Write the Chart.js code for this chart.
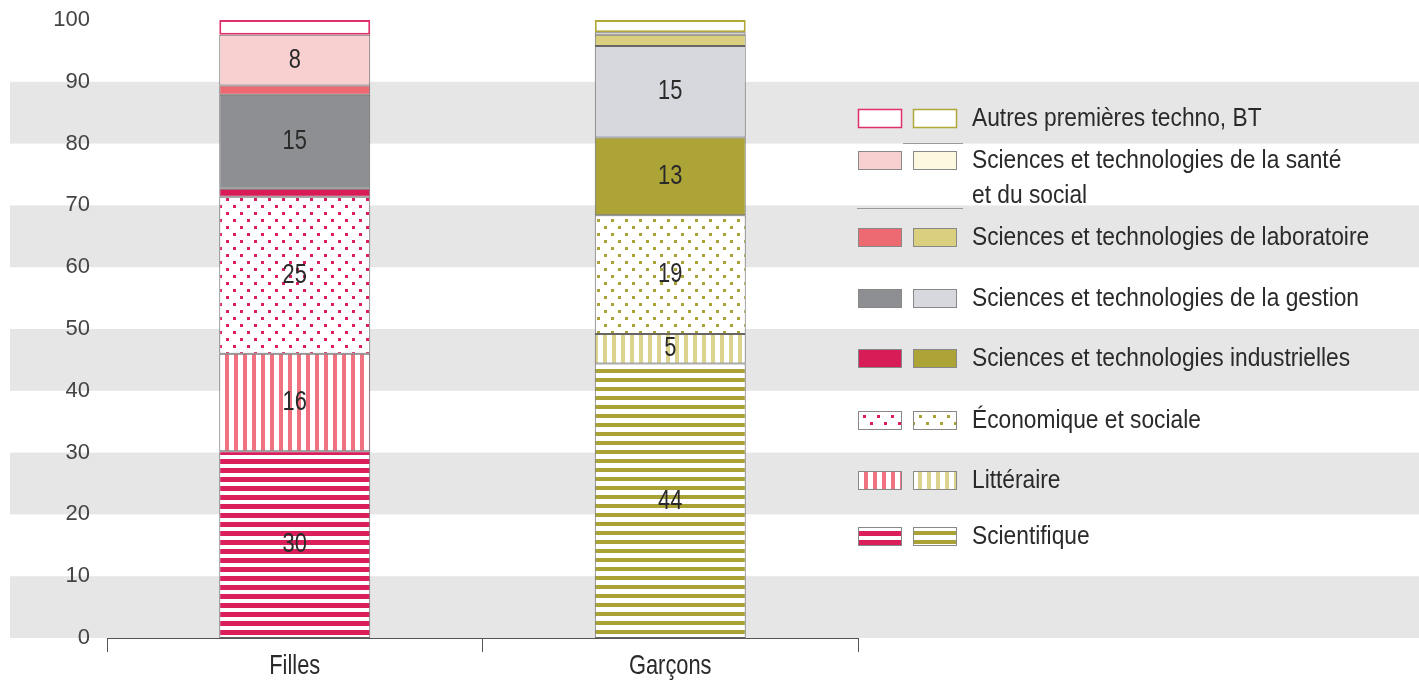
<!DOCTYPE html>
<html lang="fr">
<head>
<meta charset="utf-8">
<script src="https://cdn.jsdelivr.net/npm/chart.js@4.4.1/dist/chart.umd.min.js"></script>
<style>
  html, body { margin: 0; padding: 0; background: #fff; }
  #wrap { width: 1419px; height: 682px; }
</style>
</head>
<body>
<div id="wrap"><canvas id="chart-canvas" width="1419" height="682"></canvas></div>
<script>
// Données (en %), Filles / Garçons
const categories = ['Filles', 'Garçons'];
const scientifique = [30.2, 44.4];
const litteraire = [15.8, 4.8];
const economique = [25.4, 19.2];
const industrielles = [1.3, 12.6];
const gestion = [15.2, 14.8];
const laboratoire = [1.5, 1.8];
const santeSocial = [8.2, 0.4];
const autres = [2.4, 2.0];
const yTicks = [0, 10, 20, 30, 40, 50, 60, 70, 80, 90, 100];

// Libellés de la légende (ordre des séries, du bas vers le haut)
const seriesNames = [
    ['Scientifique'],
    ['Littéraire'],
    ['Économique et sociale'],
    ['Sciences et technologies industrielles'],
    ['Sciences et technologies de la gestion'],
    ['Sciences et technologies de laboratoire'],
    ['Sciences et technologies de la santé', 'et du social'],
    ['Autres premières techno, BT']
];
const seriesValues = [scientifique, litteraire, economique, industrielles, gestion, laboratoire, santeSocial, autres];

const canvas = document.getElementById('chart-canvas');
const ctx = canvas.getContext('2d');
const FONT = "'Liberation Sans', Arial, sans-serif";

// Motifs (rayures, points)
const tile = (w, h, draw) => {
    const c = document.createElement('canvas');
    c.width = w;
    c.height = h;
    const g = c.getContext('2d');
    g.fillStyle = '#fff';
    g.fillRect(0, 0, w, h);
    draw(g);
    return ctx.createPattern(c, 'repeat');
};
const hStripes = (color, t) => tile(9, 9, g => { g.fillStyle = color; g.fillRect(0, 0, 9, t); });
const vStripes = (color, t) => tile(9, 9, g => { g.fillStyle = color; g.fillRect(0, 0, t, 9); });
const dots = (color, s) => tile(14, 14, g => {
    g.fillStyle = color;
    g.fillRect(2, 2, s, s);
    g.fillRect(9, 9, s, s);
});

const fills = [
    [hStripes('#db1f5b', 5), hStripes('#aba235', 4)],
    [vStripes('#f0717f', 4), vStripes('#dcd38c', 4)],
    [dots('#db1f5b', 3), dots('#aba235', 3)],
    ['#d81c57', '#aca437'],
    ['#8e8f93', '#d6d8dd'],
    ['#ee6a72', '#d9cf7e'],
    ['#f8d0d0', '#fcf9e0'],
    ['#ffffff', '#ffffff']
];
const borders = seriesValues.map((_, i) => i === 7 ? ['#e0306a', '#b0a838'] : ['#666', '#666']);

// Texte condensé (mise à l'échelle horizontale)
const condensedText = (c, text, x, y, size, sx, align) => {
    c.save();
    c.font = `${size}px ${FONT}`;
    c.fillStyle = '#2a2a2a';
    c.textBaseline = 'middle';
    c.textAlign = align;
    c.translate(x, y);
    c.scale(sx, 1);
    c.fillText(text, 0, 0);
    c.restore();
};

// Bandes grises de fond
const bandsPlugin = {
    id: 'bands',
    beforeDraw(chart) {
        const { ctx: c, scales: { y } } = chart;
        c.save();
        c.fillStyle = '#e6e6e6';
        for (let v = 0; v < 100; v += 20) {
            const top = y.getPixelForValue(v + 10);
            const bottom = y.getPixelForValue(v);
            c.fillRect(10, top, chart.width - 10, bottom - top);
        }
        c.restore();
    }
};

// Valeurs dans les barres + libellés de l'axe x
const labelsPlugin = {
    id: 'valueLabels',
    afterDatasetsDraw(chart) {
        const c = chart.ctx;
        chart.data.datasets.forEach((ds, i) => {
            chart.getDatasetMeta(i).data.forEach((el, j) => {
                const v = ds.data[j];
                if (v < 4.5) return;
                condensedText(c, String(Math.round(v)), el.x, (el.y + el.base) / 2, 28, 0.78, 'center');
            });
        });
        const x = chart.scales.x;
        categories.forEach((cat, i) => {
            condensedText(c, cat, x.getPixelForTick(i), 666, 28, 0.78, 'center');
        });
    }
};

// Légende à deux pastilles
const legendPlugin = {
    id: 'doubleLegend',
    afterDraw(chart) {
        const c = chart.ctx;
        const rowsY = [536, 480, 420, 358, 298, 237, 160, 118];
        c.save();
        c.strokeStyle = '#9a9a9a';
        c.lineWidth = 1;
        c.beginPath();
        c.moveTo(903, 143.5); c.lineTo(963, 143.5);
        c.moveTo(857, 208.5); c.lineTo(963, 208.5);
        c.stroke();
        c.restore();
        seriesNames.forEach((lines, i) => {
            const cy = rowsY[i];
            [858, 913].forEach((sx, k) => {
                c.save();
                c.fillStyle = fills[i][k];
                c.fillRect(sx, cy - 9, 44, 19);
                c.strokeStyle = i === 7 ? borders[i][k] : '#888';
                c.lineWidth = i === 7 ? 1.5 : 1;
                c.strokeRect(sx + 0.5, cy - 8.5, 43, 18);
                c.restore();
            });
            lines.forEach((txt, l) => {
                condensedText(c, txt, 972, cy + 1 + l * 35, 26, 0.875, 'left');
            });
        });
    }
};

const datasets = seriesValues.map((vals, i) => ({
    label: seriesNames[i].join(' '),
    data: vals,
    backgroundColor: fills[i],
    borderColor: borders[i],
    borderWidth: i === 7 ? 2 : 1,
    borderSkipped: false,
    barPercentage: 0.402,
    categoryPercentage: 1
}));

const config = {
    type: 'bar',
    data: { labels: categories, datasets },
    options: {
        responsive: false,
        animation: false,
        layout: { padding: { top: 20, right: 561, left: 0, bottom: 0 } },
        plugins: {
            legend: { display: false },
            tooltip: { enabled: false }
        },
        scales: {
            x: {
                stacked: true,
                grid: { offset: true, drawOnChartArea: false, drawTicks: true, tickLength: 14, color: '#555' },
                border: { display: true, color: '#555' },
                ticks: { display: false },
                afterFit: (s) => { s.height = 44; }
            },
            y: {
                stacked: true,
                min: 0,
                max: 100,
                grid: { display: false, drawTicks: false },
                border: { display: false },
                afterBuildTicks: (s) => { s.ticks = yTicks.map(v => ({ value: v })); },
                ticks: { font: { family: FONT, size: 22 }, color: '#444', padding: 17 },
                afterFit: (s) => {
                    s.width = 107;
                    s.paddingTop = 0;
                    s.paddingBottom = 0;
                }
            }
        }
    },
    plugins: [bandsPlugin, labelsPlugin, legendPlugin]
};

new Chart(ctx, config);
</script>
</body>
</html>
